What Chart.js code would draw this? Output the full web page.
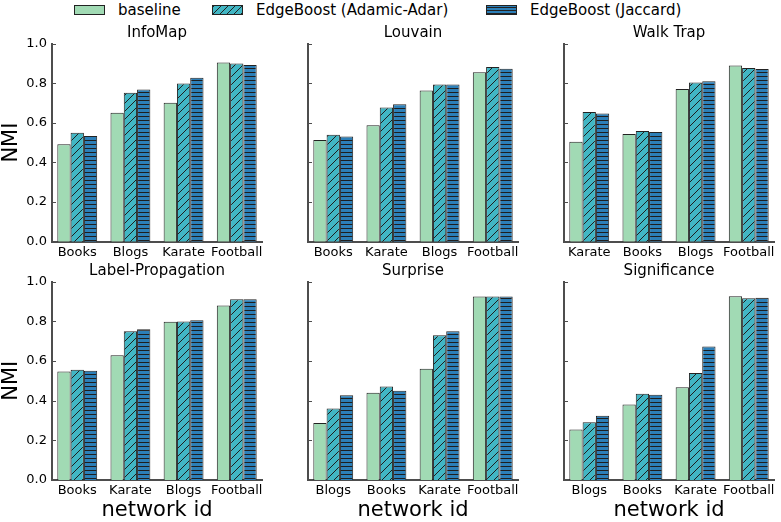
<!DOCTYPE html>
<html>
<head>
<meta charset="utf-8">
<script src="https://cdn.jsdelivr.net/npm/chart.js"></script>
<style>
body { margin: 0; background: #fff; width: 781px; height: 522px; position: relative; overflow: hidden; font-family: 'DejaVu Sans', sans-serif; }
canvas { position: absolute; }
.legend-item { position: absolute; top: 1px; font-size: 15px; line-height: 18px; display: flex; align-items: center; color: #000; }
.sw { width: 31px; height: 10px; border: 1px solid #222; box-sizing: border-box; margin-right: 13px; }
</style>
</head>
<body>
<div class="legend-item" style="left:74px"><span class="sw" style="background:#a1dab4"></span>baseline</div>
<div class="legend-item" style="left:212px"><span class="sw" style="background:repeating-linear-gradient(135deg,#222 0 1px,#41b6c4 1px 5px)"></span>EdgeBoost (Adamic-Adar)</div>
<div class="legend-item" style="left:486px"><span class="sw" style="background:repeating-linear-gradient(0deg,#222 0 1px,#2c7fb8 1px 3px)"></span>EdgeBoost (Jaccard)</div>

<canvas id="infomap"></canvas>
<canvas id="louvain"></canvas>
<canvas id="walktrap"></canvas>
<canvas id="labelprop"></canvas>
<canvas id="surprise"></canvas>
<canvas id="significance"></canvas>

<script>
const seriesNames = ['baseline', 'EdgeBoost (Adamic-Adar)', 'EdgeBoost (Jaccard)'];
const yTickValues = [0, 0.2, 0.4, 0.6, 0.8, 1.0];
const yTickLabels = ['0.0', '0.2', '0.4', '0.6', '0.8', '1.0'];

const infomapCats = ['Books', 'Blogs', 'Karate', 'Football'];
const infomapBase = [0.492, 0.650, 0.701, 0.904];
const infomapAA = [0.550, 0.751, 0.798, 0.899];
const infomapJac = [0.533, 0.768, 0.827, 0.891];

const louvainCats = ['Books', 'Karate', 'Blogs', 'Football'];
const louvainBase = [0.513, 0.587, 0.763, 0.855];
const louvainAA = [0.539, 0.677, 0.793, 0.881];
const louvainJac = [0.531, 0.694, 0.793, 0.872];

const walktrapCats = ['Karate', 'Books', 'Blogs', 'Football'];
const walktrapBase = [0.504, 0.543, 0.770, 0.889];
const walktrapAA = [0.655, 0.558, 0.803, 0.877];
const walktrapJac = [0.647, 0.553, 0.810, 0.871];

const labelpropCats = ['Books', 'Karate', 'Blogs', 'Football'];
const labelpropBase = [0.546, 0.629, 0.797, 0.879];
const labelpropAA = [0.555, 0.750, 0.798, 0.911];
const labelpropJac = [0.551, 0.760, 0.805, 0.911];

const surpriseCats = ['Blogs', 'Books', 'Karate', 'Football'];
const surpriseBase = [0.287, 0.440, 0.561, 0.924];
const surpriseAA = [0.360, 0.471, 0.729, 0.924];
const surpriseJac = [0.427, 0.450, 0.750, 0.924];

const significanceCats = ['Blogs', 'Books', 'Karate', 'Football'];
const significanceBase = [0.255, 0.380, 0.467, 0.926];
const significanceAA = [0.291, 0.434, 0.539, 0.916];
const significanceJac = [0.324, 0.430, 0.672, 0.918];

const FONT = "'DejaVu Sans', sans-serif";
const SPINE = '#4d4d4d';
const EDGE = '#222';

function diagHatch(bg) {
    const c = document.createElement('canvas');
    c.width = 8; c.height = 8;
    const g = c.getContext('2d');
    g.fillStyle = bg;
    g.fillRect(0, 0, 8, 8);
    g.strokeStyle = '#1e1e1e';
    g.lineWidth = 1;
    g.beginPath();
    g.moveTo(0, 8); g.lineTo(8, 0);
    g.moveTo(-1, 1); g.lineTo(1, -1);
    g.moveTo(7, 9); g.lineTo(9, 7);
    g.stroke();
    return g.createPattern(c, 'repeat');
}

function horizHatch(bg) {
    const c = document.createElement('canvas');
    c.width = 4; c.height = 4;
    const g = c.getContext('2d');
    g.fillStyle = bg;
    g.fillRect(0, 0, 4, 4);
    g.fillStyle = '#1e1e1e';
    g.fillRect(0, 0, 4, 1);
    return g.createPattern(c, 'repeat');
}

const fills = ['#a1dab4', diagHatch('#41b6c4'), horizHatch('#2c7fb8')];

// little inward tick marks on the left spine, like matplotlib
const inwardTicks = {
    id: 'inwardTicks',
    afterDraw(chart) {
        const y = chart.scales.y;
        const ctx = chart.ctx;
        ctx.save();
        ctx.strokeStyle = SPINE;
        ctx.lineWidth = 1;
        y.ticks.forEach(t => {
            const py = Math.round(y.getPixelForValue(t.value)) + 0.5;
            ctx.beginPath();
            ctx.moveTo(y.right, py);
            ctx.lineTo(y.right + 4, py);
            ctx.stroke();
        });
        ctx.restore();
    }
};

const cols = [{ spine: 52, yw: 52 }, { spine: 308, yw: 8 }, { spine: 564, yw: 8 }];
const rows = [
    { top: 20, height: 246, xh: 24.3 },
    { top: 258, height: 264, xh: 42 }
];

function makePanel(id, title, cats, base, aa, jac, col, row) {
    const c = cols[col], r = rows[row];
    const canvas = document.getElementById(id);
    canvas.width = c.yw + 210 + 10;
    canvas.height = r.height;
    canvas.style.left = (c.spine - c.yw) + 'px';
    canvas.style.top = r.top + 'px';

    const values = [base, aa, jac];
    new Chart(canvas, {
        type: 'bar',
        data: {
            datasets: values.map((vals, k) => ({
                label: seriesNames[k],
                data: vals.map((v, i) => ({ x: i, y: v })),
                backgroundColor: fills[k],
                borderColor: EDGE,
                borderWidth: 1,
                categoryPercentage: 0.75,
                barPercentage: 1.0
            }))
        },
        options: {
            responsive: false,
            animation: false,
            devicePixelRatio: 1,
            layout: { padding: { left: 0, right: 10, top: 0, bottom: 0 } },
            plugins: {
                legend: { display: false },
                tooltip: { enabled: false },
                title: {
                    display: true,
                    text: title,
                    fullSize: false,
                    color: '#000',
                    font: { family: FONT, size: 15, weight: 'normal', lineHeight: 1.2 },
                    padding: { top: 4, bottom: 1.5 }
                }
            },
            scales: {
                x: {
                    type: 'linear',
                    offset: false,
                    min: -0.475,
                    max: 3.475,
                    grid: { display: false, drawTicks: false, offset: false },
                    border: { display: true, color: SPINE, width: 2 },
                    afterBuildTicks: s => { s.ticks = cats.map((_, i) => ({ value: i })); },
                    afterFit: s => { s.height = r.xh; },
                    ticks: {
                        autoSkip: false,
                        maxRotation: 0,
                        padding: 3,
                        color: '#000',
                        font: { family: FONT, size: 13 },
                        callback: v => cats[v]
                    },
                    title: {
                        display: row === 1,
                        text: 'network id',
                        color: '#000',
                        font: { family: FONT, size: 21, lineHeight: 1.1 },
                        padding: { top: 0, bottom: 0 }
                    }
                },
                y: {
                    min: 0,
                    max: 1,
                    grid: { display: false, drawTicks: false },
                    border: { display: true, color: SPINE, width: 2 },
                    afterBuildTicks: s => { s.ticks = yTickValues.map(v => ({ value: v })); },
                    afterFit: s => { s.width = c.yw; },
                    ticks: {
                        display: col === 0,
                        padding: 5,
                        color: '#000',
                        font: { family: FONT, size: 13 },
                        callback: (v, i) => yTickLabels[i]
                    },
                    title: {
                        display: col === 0,
                        text: 'NMI',
                        color: '#000',
                        font: { family: FONT, size: 21, lineHeight: 1.1 },
                        padding: { top: 0, bottom: 0 }
                    }
                }
            }
        },
        plugins: [inwardTicks]
    });
}

makePanel('infomap', 'InfoMap', infomapCats, infomapBase, infomapAA, infomapJac, 0, 0);
makePanel('louvain', 'Louvain', louvainCats, louvainBase, louvainAA, louvainJac, 1, 0);
makePanel('walktrap', 'Walk Trap', walktrapCats, walktrapBase, walktrapAA, walktrapJac, 2, 0);
makePanel('labelprop', 'Label-Propagation', labelpropCats, labelpropBase, labelpropAA, labelpropJac, 0, 1);
makePanel('surprise', 'Surprise', surpriseCats, surpriseBase, surpriseAA, surpriseJac, 1, 1);
makePanel('significance', 'Significance', significanceCats, significanceBase, significanceAA, significanceJac, 2, 1);
</script>
</body>
</html>
